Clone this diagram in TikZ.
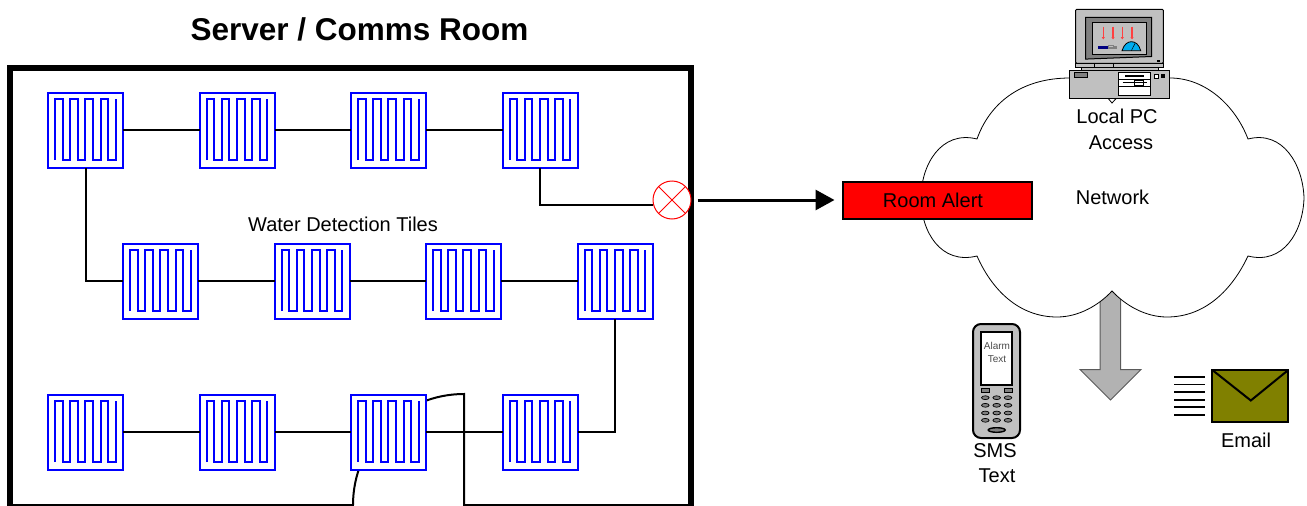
\documentclass[tikz,border=0pt]{standalone}
\usepackage{fontspec}
\setmainfont{Liberation Sans}
\usetikzlibrary{positioning,arrows.meta}
\definecolor{tileblue}{RGB}{0,0,255}
\definecolor{hwgrey}{RGB}{192,192,192}
\definecolor{hwdark}{RGB}{128,128,128}
\definecolor{arrowgrey}{RGB}{178,178,178}
\definecolor{olivebox}{RGB}{128,128,0}
\begin{document}
\begin{tikzpicture}[x=1pt,y=-1pt,
    tile/.style={rectangle,draw=tileblue,fill=white,line width=2pt,outer sep=0pt,minimum size=75pt,
        path picture={\draw[tileblue,line width=2pt] ([shift={(-30.5,30)}]path picture bounding box.center)
            \foreach \k in {1,2,3,4} { -- ++(0,-61) -- ++(7.6,0) -- ++(0,61) -- ++(7.6,0) } -- ++(0,-61);}},
    wire/.style={draw=black,line width=2pt},
    wall/.style={draw=black,line width=5.5pt},
    caption/.style={inner sep=0pt,align=center,font=\fontsize{20}{25.5}\selectfont},
    sensor/.style={circle,draw=red,fill=white,line width=1pt,inner sep=0pt,minimum size=38pt,
        path picture={\draw[red,line width=1pt]
            (path picture bounding box.center) ++(-14,-14) -- ++(28,28)
            (path picture bounding box.center) ++(14,-14) -- ++(-28,28);}},
    alert/.style={rectangle,draw=black,fill=red,line width=2pt,inner sep=0pt,outer sep=0pt,minimum width=189pt,minimum height=37pt,font=\fontsize{20}{24}\selectfont},
    envelope/.style={rectangle,draw=black,fill=olivebox,line width=2pt,inner sep=0pt,minimum width=76pt,minimum height=52pt,
        path picture={\draw[black,line width=2pt]
            (path picture bounding box.north west) -- ++(38.5,30.5) -- (path picture bounding box.north east);}},
    hw/.style={draw=black,fill=hwgrey,line width=1pt},
    key/.style={draw=black,fill=hwdark,line width=.7pt}
    ]
    \useasboundingbox (0,0) rectangle (1307,506);

    % room walls and door
    \draw[wall] (10,506) -- (10,68) -- (691,68) -- (691,506);
    \draw[wire] (10,505) -- (353,505) arc (180:270:111) -- (464,505) -- (691,505);
    \node[font=\fontsize{31.5}{36}\selectfont\bfseries,inner sep=0pt] (title) at (359.5,29) {Server / Comms Room};

    % the three rows of tiles
    \foreach \r/\cx/\cy in {1/85.5/130,2/160.5/281,3/85.5/432} {
        \def\prevc{}
        \foreach \c [count=\ci from 0, remember=\c as \prevc] in {1,2,3,4} {
            \ifnum \ci = 0
            \node[tile] (t\r\c) at (\cx,\cy) {};
            \else
            \node[tile, right=76.5pt of t\r\prevc] (t\r\c) {};
            \draw[wire] (t\r\prevc) -- (t\r\c);
            \fi
        }
    }
    \node[caption] (tiles) at (343,224) {Water Detection Tiles};

    \node[sensor] (sens) at (672,200) {};
    \draw[wire] (t14.south) |- (sens.195);
    \draw[wire] (t11.south) |- (t21.west);
    \draw[wire] (t34.east) -| (t24.south);

    % arrow out of the cloud, under its outline
    \draw[draw=hwdark!70!black,fill=arrowgrey,line width=1pt]
    (1100,285) -- (1100,369.5) -- (1080,369.5) -- (1110.5,400) -- (1141,369.5) -- (1120.5,369.5) -- (1120.5,285) -- cycle;

    % network cloud
    \draw[fill=white,line width=.8pt]
    (1112,103) .. controls (1125,88) and (1145,78) .. (1170,78)
    .. controls (1205,78) and (1235,105) .. (1248,139)
    .. controls (1283,130) and (1303,165) .. (1304,198)
    .. controls (1303,232) and (1283,265) .. (1248,256)
    .. controls (1232,290) and (1205,317) .. (1167,317)
    .. controls (1145,317) and (1125,305) .. (1112,291)
    .. controls (1099,305) and (1079,317) .. (1057,317)
    .. controls (1019,317) and (992,290) .. (977,256)
    .. controls (941,265) and (921,232) .. (921,198)
    .. controls (921,165) and (941,130) .. (977,139)
    .. controls (989,105) and (1019,78) .. (1070,78)
    .. controls (1085,78) and (1100,88) .. cycle;

    \node[caption] (net) at (1112.5,197) {Network};
    \node[caption] (pclabel) at (1117,129.5) {Local PC\\\hspace*{8pt}Access};
    \node[alert] (alarm) at (937,200) {Room Alert\hspace*{8pt}};
    \draw[line width=3pt,-{Triangle[length=19pt,width=20pt]},shorten <=6pt,shorten >=8pt] (sens.east) -- (alarm.west);

    % local pc
    \draw[hw] (1081,66) rectangle (1158,71);
    \draw[hw,rounded corners=1pt] (1075.7,9.3) rectangle (1163.3,63.3);
    \draw[hw] (1075.7,63.3) rectangle (1163.3,67.7);
    \draw[line width=.7pt] (1094.3,63.3) -- (1094.3,67.7) (1113.3,63.3) -- (1113.3,67.7);
    \fill[black] (1156.5,59.7) rectangle (1160,62);
    \draw[fill=hwdark,line width=1pt] (1085.7,17.3) -- (1151.7,17.3) -- (1151.7,56.5) -- (1088,59) -- (1085.7,59) -- cycle;
    \draw[hw] (1092.3,22.7) rectangle (1146.7,54.3);
    \foreach \tx in {1103.3,1113,1122.3,1132} {
        \draw[red!75,line width=1.2pt,-{Latex[length=2.5pt,width=3.5pt]}] (\tx,26.7) -- (\tx,39.5);
    }
    \draw[hwdark,line width=3pt] (1098.3,47.7) -- (1116.7,47.7);
    \draw[blue!50!black,line width=3pt] (1098.3,47.7) -- (1108.3,47.7);
    \draw[hwdark,fill=hwgrey,line width=.5pt] (1108.5,45) rectangle (1113,47);
    \draw[fill=cyan,line width=.8pt] (1122,50.7) .. controls (1124,44) and (1128,41.7) .. (1131.3,41.7) .. controls (1135,41.7) and (1139,44) .. (1140.7,50.7) -- cycle;
    \draw[line width=.5pt] (1131.3,50.7) -- (1135,43.5);
    \draw[hw] (1069.3,70) rectangle (1169.3,98.3);
    \draw[key] (1074.3,72.7) rectangle (1087.7,77.7);
    \draw[fill=white,line width=.8pt] (1118.3,72.7) rectangle (1150.7,95.7);
    \draw[line width=.8pt] (1118.3,79) -- (1150.7,79) (1118.3,86) -- (1150.7,86);
    \draw[line width=1.6pt] (1125,76) -- (1144,76);
    \draw[line width=.9pt] (1122.7,82.7) -- (1146.7,82.7);
    \draw[line width=.7pt] (1134.3,80) rectangle (1143.3,85.7);
    \draw[fill=white,line width=.8pt] (1154,74) rectangle (1158.3,78);
    \fill[black] (1161,74) rectangle (1164.7,78);

    % phone
    \draw[hw,line width=2pt,rounded corners=8pt] (973,324) rectangle (1020,438);
    \draw[fill=white,line width=2pt] (981,332) rectangle (1012.3,384.7);
    \node[inner sep=0pt,align=center,text=black!70,font=\fontsize{10}{13}\selectfont] (smstext) at (997,352.5) {Alarm\\Text};
    \draw[key] (981.3,388.3) rectangle (989.3,392.7);
    \draw[key] (1004,388.3) rectangle (1012,392.7);
    \foreach \ky in {397.7,405.3,413,420.3} {
        \foreach \kx in {985.3,996.7,1008} {
            \draw[key] (\kx,\ky) ellipse (3.8 and 1.9);
        }
    }
    \draw[fill=hwdark,line width=1.4pt] (996.7,430) ellipse (8.5 and 2.3);
    \node[caption] (sms) at (995,463) {SMS\\\hspace*{4pt}Text};

    % email
    \foreach \ly in {376.7,384.4,392,399.7,407.3,414.7} {
        \draw[line width=1.8pt] (1174.3,\ly) -- (1205,\ly);
    }
    \node[envelope] (mail) at (1250.3,396) {};
    \node[caption] (maillabel) at (1246,440) {Email};
\end{tikzpicture}
\end{document}
